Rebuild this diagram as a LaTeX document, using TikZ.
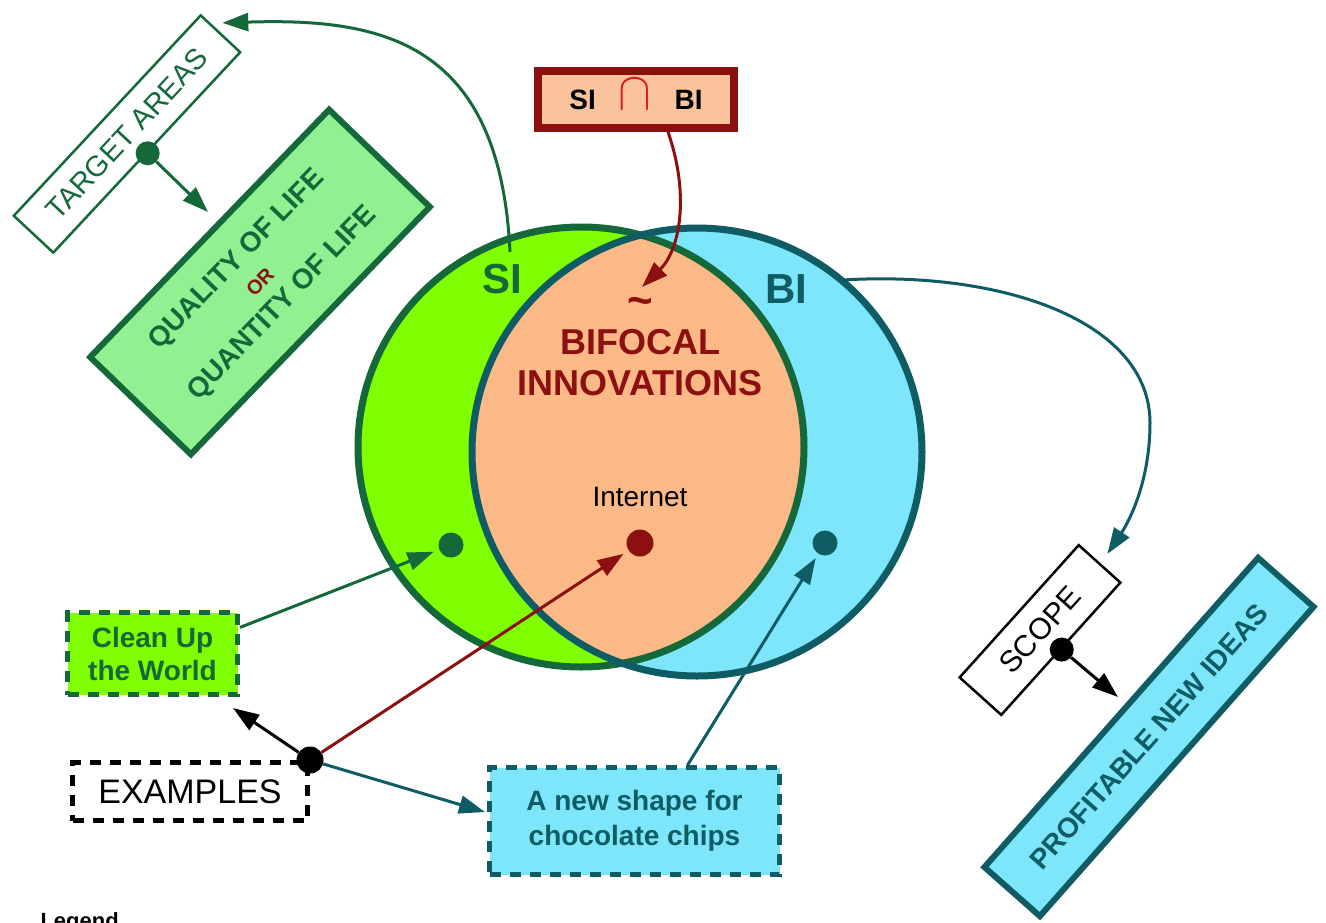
\documentclass[tikz,border=0pt]{standalone}
\usepackage{fontspec}
\setmainfont{Liberation Sans}
\usetikzlibrary{arrows.meta,shapes.geometric,calc}
\definecolor{sigreen}{RGB}{20,104,58}
\definecolor{lime}{RGB}{128,255,0}
\definecolor{bifill}{RGB}{125,230,250}
\definecolor{biteal}{RGB}{16,92,100}
\definecolor{lensorange}{RGB}{250,185,135}
\definecolor{dred}{RGB}{140,16,16}
\definecolor{qfill}{RGB}{145,240,145}
\definecolor{peach}{RGB}{250,195,155}
\definecolor{capred}{RGB}{210,30,30}
\begin{document}
\begin{tikzpicture}[x=1pt,y=-1pt,
  conn/.style={line width=3pt,-{Triangle[length=26pt,width=18pt]}},
  dotnode/.style={circle,inner sep=0pt,minimum size=25pt},
  dashbox/.style={line width=5pt,dash pattern=on 11pt off 9pt,align=center},
  rotbox/.style={align=center},
  anchorell/.style={ellipse,inner sep=0pt,outer sep=0pt,draw=none}
]
\useasboundingbox (0,0) rectangle (1326,922);
\fill[white] (0,0) rectangle (1326,922);

% circles
\fill[lime] (581,447) ellipse [x radius=223, y radius=220];
\fill[bifill] (697,452) ellipse [x radius=225, y radius=224];
\begin{scope}
  \clip (581,447) ellipse [x radius=223, y radius=220];
  \fill[lensorange] (697,452) ellipse [x radius=225, y radius=224];
\end{scope}
\draw[sigreen,line width=7pt] (581,447) ellipse [x radius=223, y radius=220];
\draw[biteal,line width=7pt] (697,452) ellipse [x radius=225, y radius=224];
\node[anchorell,minimum width=446pt,minimum height=440pt] (SIc) at (581,447) {};
\node[anchorell,minimum width=450pt,minimum height=448pt] (BIc) at (697,452) {};

% labels in circles
\node[text=sigreen,font=\bfseries\fontsize{42}{42}\selectfont] (silab) at (502,279) {SI};
\node[text=biteal,font=\bfseries\fontsize{42}{42}\selectfont] (bilab) at (786,289) {BI};
\node[text=dred,font=\bfseries\fontsize{44}{44}\selectfont,anchor=base] (tilde) at (640,315) {\textasciitilde};
\node[text=dred,font=\bfseries\fontsize{36}{41}\selectfont,align=center] (bifocal) at (640,363) {BIFOCAL\\INNOVATIONS};
\node[font=\fontsize{28}{28}\selectfont] (internet) at (640,497) {Internet};

% dots in circles
\node[dotnode,fill=sigreen] (sidot) at (451,545) {};
\node[dotnode,fill=dred,minimum size=27pt] (indot) at (640,543) {};
\node[dotnode,fill=biteal] (bidot) at (825,543) {};

% intersection box
\node[draw=dred,fill=peach,line width=8pt,minimum width=196pt,minimum height=57pt,
      font=\bfseries\fontsize{28}{28}\selectfont] (sibi) at (636,99.5)
      {SI\hspace{23pt}\raisebox{0pt}[0pt][0pt]{\color{capred}\normalsize\scalebox{4.9}[5.4]{$\cap$}}\hspace{23pt}BI};

% rotated boxes
\node[rotbox,draw=sigreen,fill=white,line width=2.5pt,rotate=47,minimum width=274pt,minimum height=54pt,
      text=sigreen,font=\fontsize{29}{29}\selectfont] (TA) at (127,134) {TARGET AREAS};
\node[rotbox,draw=sigreen,fill=qfill,line width=6pt,rotate=46,minimum width=344pt,minimum height=140pt,
      text=sigreen,font=\bfseries\fontsize{28}{31.5}\selectfont] (QB) at (260,282)
      {QUALITY OF LIFE\\{\color{dred}\fontsize{20}{20}\selectfont OR}\\QUANTITY OF LIFE};
\node[rotbox,draw=black,fill=white,line width=2.5pt,rotate=48,minimum width=178pt,minimum height=56pt,
      font=\fontsize{30}{30}\selectfont] (SC) at (1040,630) {SCOPE};
\node[rotbox,draw=biteal,fill=bifill,line width=6pt,rotate=48.5,minimum width=413pt,minimum height=74pt,
      text=biteal,font=\bfseries\fontsize{28}{28}\selectfont] (PR) at (1149,737) {PROFITABLE NEW IDEAS};

% example boxes
\node[dashbox,draw=sigreen,fill=lime,minimum width=170pt,minimum height=82pt,
      text=sigreen,font=\bfseries\fontsize{28}{33}\selectfont] (CL) at (152.5,653.5) {Clean Up\\the World};
\node[dashbox,draw=black,fill=white,minimum width=235pt,minimum height=58pt,
      font=\fontsize{34}{34}\selectfont] (EX) at (190,791.5) {EXAMPLES};
\node[dashbox,draw=biteal,fill=bifill,minimum width=290pt,minimum height=107pt,
      text=biteal,font=\bfseries\fontsize{28}{35}\selectfont] (CH) at (634.5,821) {A new shape for\\chocolate chips};

% dots on boxes
\node[dotnode,fill=sigreen,minimum size=24pt] (tadot) at (TA.south) {};
\node[dotnode,fill=black,minimum size=24pt] (scdot) at (SC.south) {};
\node[dotnode,fill=black,minimum size=27pt] (exdot) at (EX.north east) {};

% free ends
\coordinate (sistart) at (510,252);
\coordinate (taend) at (208,212);
\coordinate (scend) at (1118,697);
\coordinate (redend) at (642,287);

% connectors
\draw[conn,sigreen] (sistart) .. controls (500,40) and (380,18) .. ($(TA.east)+(1,-10)$);
\draw[conn,dred] ($(sibi.south)+(32,0)$) .. controls (690,195) and (680,250) .. (redend);
\draw[conn,biteal] (BIc.50) .. controls (1000,270) and (1150,320) .. (1150,423)
      .. controls (1150,480) and (1130,520) .. ($(SC.east)+(7,-9)$);
\draw[conn,sigreen] (tadot) -- (taend);
\draw[conn,black] (scdot) -- (scend);
\draw[conn,sigreen,shorten >=6pt] ($(CL.north east)!0.2!(CL.south east)$) -- (sidot);
\draw[conn,black] (exdot) -- ($(CL.south east)+(-7,11)$);
\draw[conn,dred,shorten >=6pt] (exdot) -- (indot);
\draw[conn,biteal] (exdot) -- ($(CH.west)+(-2,-9)$);
\draw[conn,biteal,shorten >=5pt] ($(CH.north west)!0.68!(CH.north east)$) -- (bidot);

% legend (cut off at bottom edge)
\node[anchor=base west,font=\bfseries\fontsize{22}{22}\selectfont] (legend) at (37,928) {Legend};
\end{tikzpicture}
\end{document}
